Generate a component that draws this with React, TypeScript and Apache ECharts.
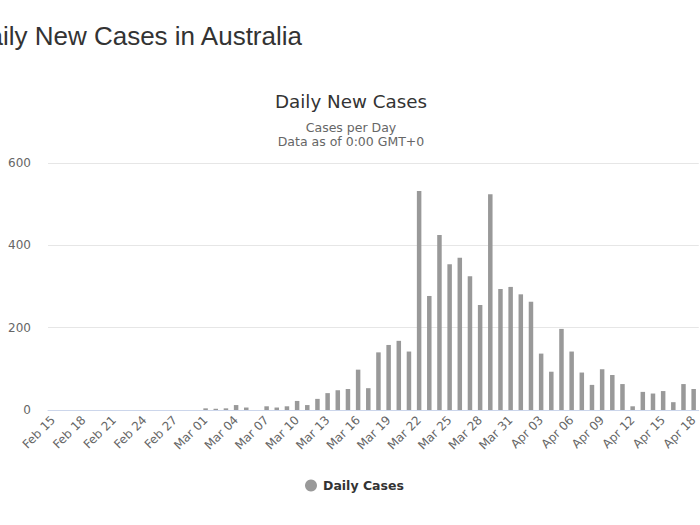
import React, { useEffect, useRef } from "react";
import * as echarts from "echarts";

const dates = [
  "Feb 15", "Feb 16", "Feb 17", "Feb 18", "Feb 19", "Feb 20", "Feb 21", "Feb 22", "Feb 23", "Feb 24",
  "Feb 25", "Feb 26", "Feb 27", "Feb 28", "Feb 29",
  "Mar 01", "Mar 02", "Mar 03", "Mar 04", "Mar 05", "Mar 06", "Mar 07", "Mar 08", "Mar 09", "Mar 10",
  "Mar 11", "Mar 12", "Mar 13", "Mar 14", "Mar 15", "Mar 16", "Mar 17", "Mar 18", "Mar 19", "Mar 20",
  "Mar 21", "Mar 22", "Mar 23", "Mar 24", "Mar 25", "Mar 26", "Mar 27", "Mar 28", "Mar 29", "Mar 30",
  "Mar 31",
  "Apr 01", "Apr 02", "Apr 03", "Apr 04", "Apr 05", "Apr 06", "Apr 07", "Apr 08", "Apr 09", "Apr 10",
  "Apr 11", "Apr 12", "Apr 13", "Apr 14", "Apr 15", "Apr 16", "Apr 17", "Apr 18",
];

const dailyCases = [
  0, 0, 0, 0, 0, 0, 0, 0, 0, 0,
  0, 0, 0, 0, 0,
  4, 3, 4, 12, 6, 0, 9, 6, 9, 22,
  12, 27, 41, 48, 51, 98, 53, 140, 158, 168,
  142, 532, 277, 425, 354, 370, 325, 255, 524, 294,
  299,
  281, 263, 137, 93, 197, 142, 91, 61, 99, 85,
  63, 9, 44, 40, 46, 19, 63, 51,
];

const yTicks = [0, 200, 400, 600];

const pageTitle = "Daily New Cases in Australia";
const chartTitle = "Daily New Cases";
const subtitleLines = ["Cases per Day", "Data as of 0:00 GMT+0"];
const seriesName = "Daily Cases";

export default function App() {
  const ref = useRef<HTMLDivElement>(null);

  useEffect(() => {
    if (!ref.current) return;
    const chart = echarts.init(ref.current, undefined, { renderer: "svg" });
    const font = "'DejaVu Sans', 'Lucida Grande', sans-serif";
    chart.setOption({
      animation: false,
      backgroundColor: "#ffffff",
      graphic: [
        {
          type: "text",
          x: 302,
          y: 36,
          style: {
            text: pageTitle,
            fill: "#333333",
            font: "26px 'Liberation Sans', Arial, sans-serif",
            align: "right",
            verticalAlign: "middle",
          },
        },
        {
          type: "text",
          x: 351,
          y: 101,
          style: {
            text: chartTitle,
            fill: "#333333",
            font: `18.3px ${font}`,
            align: "center",
            verticalAlign: "middle",
          },
        },
        {
          type: "text",
          x: 351,
          y: 127,
          style: {
            text: subtitleLines[0],
            fill: "#666666",
            font: `12.5px ${font}`,
            align: "center",
            verticalAlign: "middle",
          },
        },
        {
          type: "text",
          x: 351,
          y: 141,
          style: {
            text: subtitleLines[1],
            fill: "#666666",
            font: `12.5px ${font}`,
            align: "center",
            verticalAlign: "middle",
          },
        },
      ],
      legend: {
        data: [seriesName],
        left: 300,
        top: 474,
        icon: "circle",
        itemWidth: 14,
        itemHeight: 12,
        textStyle: {
          color: "#333333",
          fontWeight: "bold",
          fontSize: 12.5,
          fontFamily: font,
        },
      },
      grid: {
        left: 48,
        right: -1,
        top: 163,
        bottom: 115,
        containLabel: false,
      },
      xAxis: {
        type: "category",
        data: dates,
        boundaryGap: true,
        axisLine: { show: true, lineStyle: { color: "#ccd6eb", width: 1 } },
        axisTick: { show: false },
        axisLabel: {
          interval: 2,
          rotate: 45,
          margin: 8,
          color: "#666666",
          fontSize: 12,
          fontFamily: font,
        },
      },
      yAxis: {
        type: "value",
        min: yTicks[0],
        max: yTicks[yTicks.length - 1],
        interval: yTicks[1] - yTicks[0],
        axisLine: { show: false },
        axisTick: { show: false },
        splitLine: { lineStyle: { color: "#e6e6e6", width: 1 } },
        axisLabel: {
          margin: 17,
          color: "#666666",
          fontSize: 12,
          fontFamily: font,
        },
      },
      series: [
        {
          name: seriesName,
          type: "bar",
          data: dailyCases,
          barWidth: 4.5,
          itemStyle: { color: "#999999" },
        },
      ],
    });
    return () => chart.dispose();
  }, []);

  return (
    <div
      ref={ref}
      style={{ position: "absolute", left: 0, top: 0, width: 700, height: 525 }}
    />
  );
}
